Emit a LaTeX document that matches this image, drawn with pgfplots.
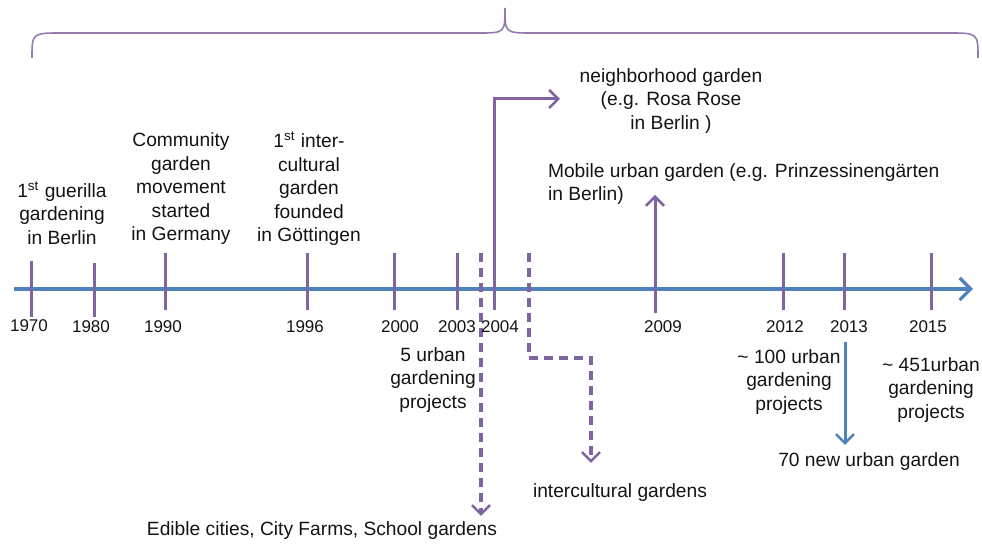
\documentclass[border=0pt]{standalone}
\usepackage{pgfplots}
\pgfplotsset{compat=1.18}
\usepackage{fontspec}
\setmainfont{Liberation Sans}
\usetikzlibrary{arrows.meta}
\definecolor{tlpurple}{RGB}{128,100,162}
\definecolor{tlblue}{RGB}{79,129,189}
\definecolor{txt}{RGB}{20,20,20}
\tikzset{
  tk/.style={tlpurple, line width=1.5pt},
  dsh/.style={tlpurple, line width=1.8pt, dash pattern=on 4.5pt off 3pt},
  barb/.style={-{Straight Barb[length=4.5pt,width=9pt,line width=1.3pt]}},
  yr/.style={font=\fontsize{8.5}{10}\selectfont, text=txt},
  lbl/.style={font=\fontsize{9.6}{11.75}\selectfont, text=txt, align=center},
}
\begin{document}
\begin{tikzpicture}
\begin{axis}[
  scale only axis, width=491pt, height=272pt,
  xmin=0, xmax=982, ymin=0, ymax=544, y dir=reverse,
  axis line style={draw=none}, ticks=none, clip=false,
]
\coordinate (LL) at (axis cs:0,544);
\coordinate (UR) at (axis cs:982,0);
% brace
\draw[tlpurple!85, line width=0.8pt] (axis cs:32,58) .. controls (axis cs:32,33) .. (axis cs:62,33)
  -- (axis cs:478,33) .. controls (axis cs:505,33) .. (axis cs:505,8)
  .. controls (axis cs:505,33) .. (axis cs:532,33) -- (axis cs:948,33)
  .. controls (axis cs:978,33) .. (axis cs:978,58);
% main line
\addplot[tlblue, line width=2pt, -{Straight Barb[length=5.5pt,width=11pt,line width=1.6pt]}] coordinates {(14,289) (973,289)};
% ticks
\addplot[tk] coordinates {(31,261) (31,317)};
\addplot[tk] coordinates {(94,263) (94,317)};
\addplot[tk] coordinates {(165,253) (165,310)};
\addplot[tk] coordinates {(307,253) (307,310)};
\addplot[tk] coordinates {(394,253) (394,310)};
\addplot[tk] coordinates {(457,253) (457,310)};
\addplot[tk] coordinates {(783,253) (783,310)};
\addplot[tk] coordinates {(844,253) (844,310)};
\addplot[tk] coordinates {(931,253) (931,310)};
% 2004 arrow
\addplot[tk, barb] coordinates {(494,310) (494,99) (560,99)};
% 2009 arrow
\addplot[tk, barb] coordinates {(655,313) (655,195)};
% dashed
\addplot[dsh, barb] coordinates {(481,253) (481,516)};
\addplot[dsh, barb] coordinates {(529,253) (529,358) (591,358) (591,463)};
% 2013 blue arrow
\addplot[tlblue, line width=1.5pt, barb] coordinates {(845,342) (845,445)};
% year labels
\node[yr] at (axis cs:29,326) {1970};
\node[yr] at (axis cs:91,327) {1980};
\node[yr] at (axis cs:163,327) {1990};
\node[yr] at (axis cs:305,327) {1996};
\node[yr] at (axis cs:400,327) {2000};
\node[yr] at (axis cs:457,327) {2003};
\node[yr] at (axis cs:500,327) {2004};
\node[yr] at (axis cs:663,327) {2009};
\node[yr] at (axis cs:785,327) {2012};
\node[yr] at (axis cs:849,327) {2013};
\node[yr] at (axis cs:928,327) {2015};
% labels
\node[lbl] at (axis cs:62,213) {1\textsuperscript{st} guerilla\\gardening\\in Berlin};
\node[lbl] at (axis cs:181,189) {Community\\garden\\movement\\started\\in Germany};
\node[lbl] at (axis cs:309,189) {1\textsuperscript{st} inter-\\cultural\\garden\\founded\\in Göttingen};
\node[lbl] at (axis cs:671,101) {neighborhood garden\\(e.g. Rosa Rose\\in Berlin )};
\node[lbl, align=left, anchor=west] at (axis cs:541,184) {Mobile urban garden (e.g. Prinzessinengärten\\in Berlin)};
\node[lbl] at (axis cs:433,380) {5 urban\\gardening\\projects};
\node[lbl] at (axis cs:620,493) {intercultural gardens};
\node[lbl] at (axis cs:322,531) {Edible cities, City Farms, School gardens};
\node[lbl] at (axis cs:789,382) {\textasciitilde{} 100 urban\\gardening\\projects};
\node[lbl] at (axis cs:931,390) {\textasciitilde{} 451urban\\gardening\\projects};
\node[lbl] at (axis cs:869,462) {70 new urban garden};
\end{axis}
\pgfresetboundingbox
\path (LL) rectangle (UR);
\end{tikzpicture}
\end{document}
